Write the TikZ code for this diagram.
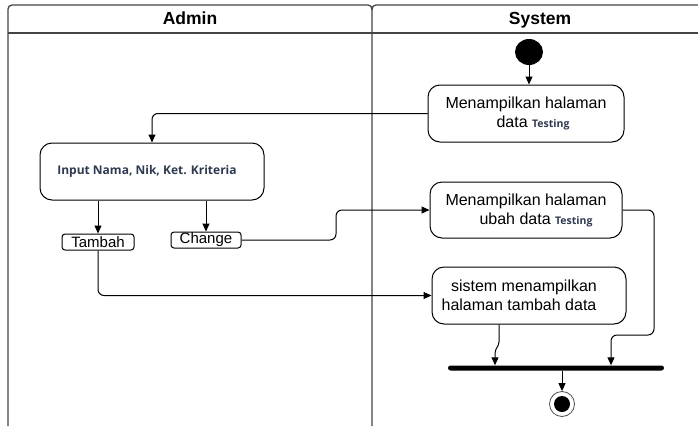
\documentclass[tikz,border=0pt]{standalone}
\usepackage{fontspec}
\setmainfont{Liberation Sans}
\newfontfamily\tagfont{Open Sans}
\usetikzlibrary{arrows.meta,shapes.geometric}
\definecolor{tagcol}{HTML}{2E3A4F}
\definecolor{lanecol}{HTML}{444444}
\newcommand{\tagtxt}[1]{{\tagfont\bfseries\fontsize{10.5}{12}\selectfont\color{tagcol}#1}}
\begin{document}
\begin{tikzpicture}[x=1pt,y=-1pt,
  lane/.style={draw=lanecol, line width=1.3pt},
  act/.style={draw, rounded corners=12pt, line width=1pt, align=center, inner sep=0pt,
    font=\fontsize{16}{19}\selectfont},
  btn/.style={draw, rounded corners=3pt, line width=1pt, inner sep=0pt,
    font=\fontsize{15}{16}\selectfont},
  flow/.style={-{Triangle[length=8pt,width=7pt]}, line width=1pt, rounded corners=6pt},
  head/.style={font=\bfseries\fontsize{17.5}{19}\selectfont, anchor=base}
]
\useasboundingbox (0,0) rectangle (698,426);
\fill[white] (0,0) rectangle (698,426);
% swimlanes
\draw[lane, rounded corners=4pt] (8,426) -- (8,5) -- (372,5) -- (372,426);
\draw[lane, rounded corners=4pt] (372,10) -- (372,5) -- (698,5);
\draw[lane] (8,33) -- (698,33);
\node[head] (hadmin) at (190,24) {Admin};
\node[head] (hsys) at (540,24) {System};
% nodes
\node[ellipse, fill=black, minimum width=28pt, minimum height=26pt, inner sep=0pt] (init) at (529,52) {};
\node[act, minimum width=196pt, minimum height=57pt] (b1) at (526,113.5)
  {Menampilkan halaman\\\hspace*{14pt}data \tagtxt{Testing}};
\node[act, minimum width=224pt, minimum height=57pt,
  font=\tagfont\bfseries\fontsize{12}{14}\selectfont, text=tagcol] (b2) at (152,171.5)
  {Input Nama, Nik, Ket. Kriteria\hspace*{10pt}};
\node[btn, minimum width=72pt, minimum height=16pt] (tb) at (98,242) {Tambah};
\node[btn, minimum width=70pt, minimum height=16pt] (ch) at (206,240) {Change};
\node[act, minimum width=192pt, minimum height=56pt] (b3) at (526,210)
  {Menampilkan halaman\\\hspace*{20pt}ubah data \tagtxt{Testing}};
\node[act, minimum width=194pt, minimum height=57pt] (b4) at (529,295.5)
  {sistem menampilkan\hspace*{10pt}\\halaman tambah data\hspace*{20pt}};
\node[fill=black, minimum width=216pt, minimum height=5pt, inner sep=0pt, rounded corners=2.5pt] (bar) at (556,368) {};
\node[circle, draw=black!70, line width=0.8pt, minimum size=25pt, inner sep=0pt] (fin) at (562,404) {};
\node[circle, fill=black, minimum size=16pt, inner sep=0pt] (finin) at (562,404) {};
% helper coordinates
\coordinate (c1) at (336,240);
\coordinate (c2) at (654,210);
\coordinate (c3) at (654,335);
\coordinate (c4) at (611,335);
\coordinate (c5) at (499,344);
\coordinate (c6) at (495,351);
% connectors
\draw[flow] (init) -- (b1.north -| init);
\draw[flow] (b1.west) -| (b2.north);
\draw[flow] (b2.south -| tb) -- (tb.north);
\draw[flow] (b2.south -| ch) -- (ch.north);
\draw[flow] (ch.east) -- (c1) |- (b3.west);
\draw[flow] (tb.south) |- (b4.west);
\draw[flow] (b3.east) -- (c2) -- (c3) -- (c4) -- (bar.north -| c4);
\draw[flow, rounded corners=2pt] (b4.south -| c5) -- (c5) -- (c6) -- (bar.north -| c6);
\draw[flow] (bar.south -| fin) -- (fin.north);
\end{tikzpicture}
\end{document}
